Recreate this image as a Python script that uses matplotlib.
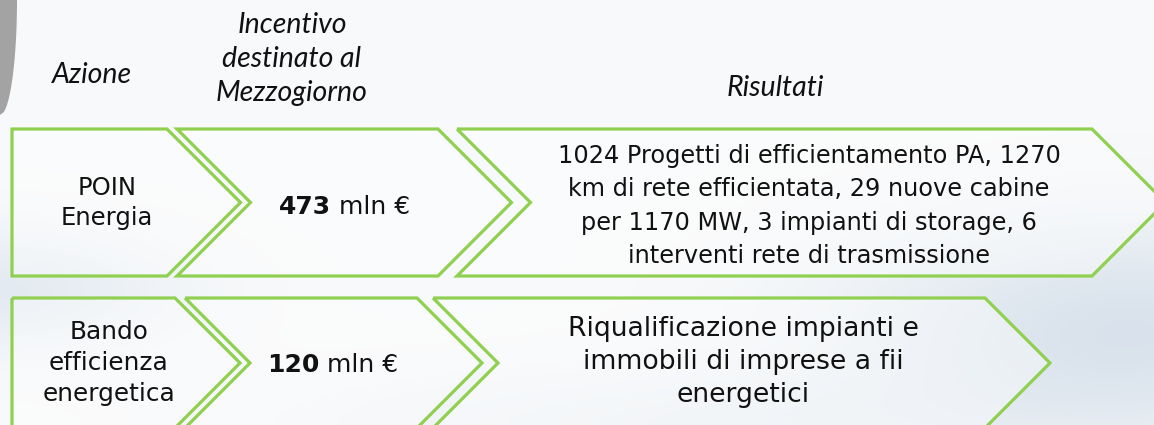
import numpy as np
import matplotlib
matplotlib.use("Agg")
import matplotlib.pyplot as plt
from matplotlib.patches import Polygon

# data
headers = ["Azione", "Incentivo\ndestinato al\nMezzogiorno", "Risultati"]
azioni = ["POIN\nEnergia", "Bando\nefficienza\nenergetica"]
incentivi = [473, 120]
unita = "mln €"
risultati = [
    "1024 Progetti di efficientamento PA, 1270\nkm di rete efficientata, 29 nuove cabine\nper 1170 MW, 3 impianti di storage, 6\ninterventi rete di trasmissione",
    "Riqualificazione impianti e\nimmobili di imprese a fii\nenergetici",
]

# layout (pixels)
W, H = 1154, 425
rows = [(129, 276), (298, 428)]
cols = [[(12, 167), (177, 438), (457, 1092)],
        [(12, 175), (185, 417), (433, 985)]]
header_x = [92, 292, 775]
header_y = [75, 59, 88]
green = "#90d050"
body = "DejaVu Sans"
ink = "#111111"

fig = plt.figure(figsize=(W / 100, H / 100), dpi=100)
ax = fig.add_axes([0, 0, 1, 1])
ax.set_xlim(0, W)
ax.set_ylim(H, 0)
ax.axis("off")

# background
yy, xx = np.mgrid[0:H, 0:W]
base = np.array([0.975, 0.98, 0.985])
tint = np.array([0.84, 0.88, 0.92])
w = 0.9 * np.exp(-(((xx - 1130) / 280) ** 2 + ((yy - 330) / 110) ** 2))
w = w + 0.6 * np.exp(-(((xx - 0) / 170) ** 2 + ((yy - 290) / 60) ** 2))
w = w + 0.35 * np.exp(-(((xx - 700) / 400) ** 2 + ((yy - 425) / 60) ** 2))
w = np.clip(w, 0, 1)[..., None]
bg = base * (1 - w) + tint * w
ax.imshow(bg, extent=(0, W, H, 0), aspect="auto", zorder=0)

# grey arc top-left
t = np.linspace(0, 1, 40)
arc_x = list(17 * np.sqrt(1 - t ** 2)) + [0, 0]
arc_y = list(115 * t) + [115, 0]
ax.add_patch(Polygon(np.column_stack([arc_x, arc_y]), closed=True,
                     facecolor="#a3a3a3", edgecolor="none", zorder=1))

# chevrons
for r, (top, bot) in enumerate(rows):
    mid = (top + bot) / 2
    d = (bot - top) / 2
    for c, (x0, x1) in enumerate(cols[r]):
        pts = [(x0, top), (x1, top), (x1 + d, mid), (x1, bot), (x0, bot)]
        if c > 0:
            pts.append((x0 + d, mid))
        ax.add_patch(Polygon(pts, closed=True, facecolor="white", alpha=0.4,
                             edgecolor="none", zorder=2))
        ax.add_patch(Polygon(pts, closed=True, facecolor="none",
                             edgecolor=green, lw=2.3, joinstyle="miter", zorder=3))

# headers
for i, h in enumerate(headers):
    ax.text(header_x[i], header_y[i], h, ha="center", va="center",
            fontsize=20.5, style="italic", family="Lato", color=ink,
            linespacing=1.4, zorder=4)

# row texts
act_x = [107, 109]
act_y = [203, 363]
act_fs = [17.5, 17.8]
inc_x = [335, 323]
inc_dy = [4, 2]
res_x = [809, 743]
res_y = [206, 362]
res_fs = [17.3, 19.2]
res_ls = [1.48, 1.36]
for r in range(2):
    ax.text(act_x[r], act_y[r], azioni[r], ha="center", va="center",
            fontsize=act_fs[r], family=body, color=ink,
            linespacing=1.35, zorder=4)
    mid = (rows[r][0] + rows[r][1]) / 2
    ax.text(inc_x[r] - 4, mid + inc_dy[r], str(incentivi[r]), ha="right", va="center",
            fontsize=18, weight="bold", family=body, color=ink, zorder=4)
    ax.text(inc_x[r] + 4, mid + inc_dy[r], unita, ha="left", va="center",
            fontsize=18, family=body, color=ink, zorder=4)
    ax.text(res_x[r], res_y[r], risultati[r], ha="center", va="center",
            fontsize=res_fs[r], family=body, color=ink,
            linespacing=res_ls[r], zorder=4)

fig.savefig("out.png", dpi=100)
